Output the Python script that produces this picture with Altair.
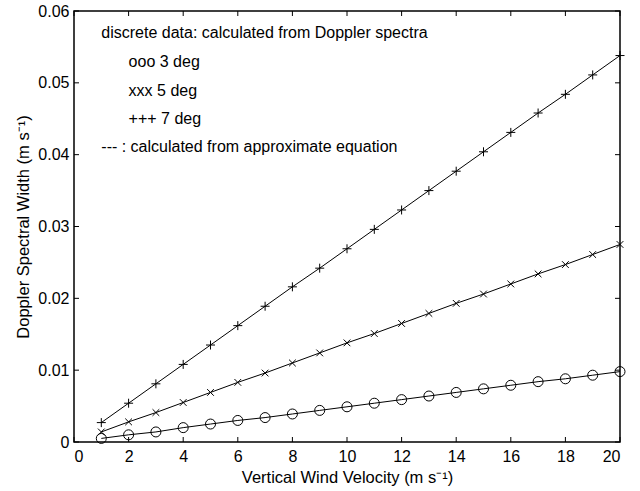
import altair as alt
import pandas as pd

velocity = list(range(1, 21))
width_3deg = [0.0005, 0.0010, 0.0014, 0.0020, 0.0025, 0.0030, 0.0034, 0.0039, 0.0044, 0.0049,
              0.0054, 0.0059, 0.0064, 0.0069, 0.0074, 0.0079, 0.0084, 0.0088, 0.0093, 0.0098]
width_5deg = [0.0014, 0.0028, 0.0041, 0.0055, 0.0069, 0.0083, 0.0096, 0.0110, 0.0124, 0.0138,
              0.0151, 0.0165, 0.0179, 0.0193, 0.0206, 0.0220, 0.0234, 0.0247, 0.0261, 0.0275]
width_7deg = [0.0027, 0.0054, 0.0081, 0.0108, 0.0135, 0.0162, 0.0189, 0.0216, 0.0242, 0.0269,
              0.0296, 0.0323, 0.0350, 0.0377, 0.0404, 0.0431, 0.0458, 0.0484, 0.0511, 0.0538]
series_names = ["3 deg", "5 deg", "7 deg"]

x_ticks = [0, 2, 4, 6, 8, 10, 12, 14, 16, 18, 20]
y_ticks = [0, 0.01, 0.02, 0.03, 0.04, 0.05, 0.06]

note_texts = ["discrete data: calculated from Doppler spectra", "ooo 3 deg", "xxx 5 deg",
              "+++ 7 deg", "--- : calculated from approximate equation"]
note_x = [1.0, 2.0, 2.0, 2.0, 1.0]
note_y = [0.0570, 0.0529, 0.0489, 0.0450, 0.0410]

rows = []
for name, vals in zip(series_names, [width_3deg, width_5deg, width_7deg]):
    for v, w in zip(velocity, vals):
        rows.append({"series": name, "v": v, "w": w})
df = pd.DataFrame(rows)

FONT = "Liberation Sans"
W, H = 546, 431

xs = alt.Scale(domain=[0, 20], nice=False, zero=False)
ys = alt.Scale(domain=[0, 0.06], nice=False, zero=False)

xaxis = alt.Axis(values=x_ticks, format="d", ticks=False, domain=False, grid=False,
                 labelFont=FONT, labelFontSize=16, labelColor="black", labelPadding=6,
                 titleFont=FONT, titleFontSize=16.5, titleFontWeight="normal", titleColor="black",
                 titlePadding=5)
yaxis = alt.Axis(values=y_ticks, ticks=False, domain=False, grid=False,
                 labelFont=FONT, labelFontSize=16, labelColor="black", labelPadding=5,
                 labelExpr="datum.value == 0 ? '0' : format(datum.value, '.2f')",
                 titleFont=FONT, titleFontSize=16.5, titleFontWeight="normal", titleColor="black",
                 titlePadding=6)

base = alt.Chart(df)

lines = base.mark_line(color="black", strokeWidth=1).encode(
    x=alt.X("v:Q", scale=xs, axis=xaxis, title="Vertical Wind Velocity (m s⁻¹)"),
    y=alt.Y("w:Q", scale=ys, axis=yaxis, title="Doppler Spectral Width (m s⁻¹)"),
    detail="series:N",
)

def pts(name, shape, size):
    return base.transform_filter(alt.datum.series == name).mark_point(
        color="black", filled=False, strokeWidth=1, opacity=1, shape=shape, size=size
    ).encode(x=alt.X("v:Q", scale=xs), y=alt.Y("w:Q", scale=ys))

p3 = pts("3 deg", "circle", 100)
p5 = pts("5 deg", "M-1,-1L1,1M-1,1L1,-1", 45)
p7 = pts("7 deg", "M-1,0L1,0M0,-1L0,1", 81)

notes_df = pd.DataFrame({"t": note_texts, "x": note_x, "y": note_y})
notes = alt.Chart(notes_df).mark_text(align="left", baseline="middle", font=FONT, fontSize=16,
                                      color="black").encode(
    x=alt.X("x:Q", scale=xs), y=alt.Y("y:Q", scale=ys), text="t:N")

xt_df = pd.DataFrame({"t": x_ticks})
yt_df = pd.DataFrame({"t": y_ticks})
tick_len = 5
xt_bottom = alt.Chart(xt_df).mark_rule(color="black", strokeWidth=1).encode(
    x=alt.X("t:Q", scale=xs), y=alt.value(H), y2=alt.value(H - tick_len))
xt_top = alt.Chart(xt_df).mark_rule(color="black", strokeWidth=1).encode(
    x=alt.X("t:Q", scale=xs), y=alt.value(0), y2=alt.value(tick_len))
yt_left = alt.Chart(yt_df).mark_rule(color="black", strokeWidth=1).encode(
    y=alt.Y("t:Q", scale=ys), x=alt.value(0), x2=alt.value(tick_len))
yt_right = alt.Chart(yt_df).mark_rule(color="black", strokeWidth=1).encode(
    y=alt.Y("t:Q", scale=ys), x=alt.value(W), x2=alt.value(W - tick_len))

chart = alt.layer(lines, p3, p5, p7, notes, xt_bottom, xt_top, yt_left, yt_right).properties(
    width=W, height=H,
    autosize=alt.AutoSizeParams(type="none"),
    padding={"left": 74, "top": 11, "right": 20, "bottom": 49},
    background="white",
).configure_view(stroke="black", strokeWidth=1.5)

chart.save("out.html", embed_options={"renderer": "svg", "actions": False})
